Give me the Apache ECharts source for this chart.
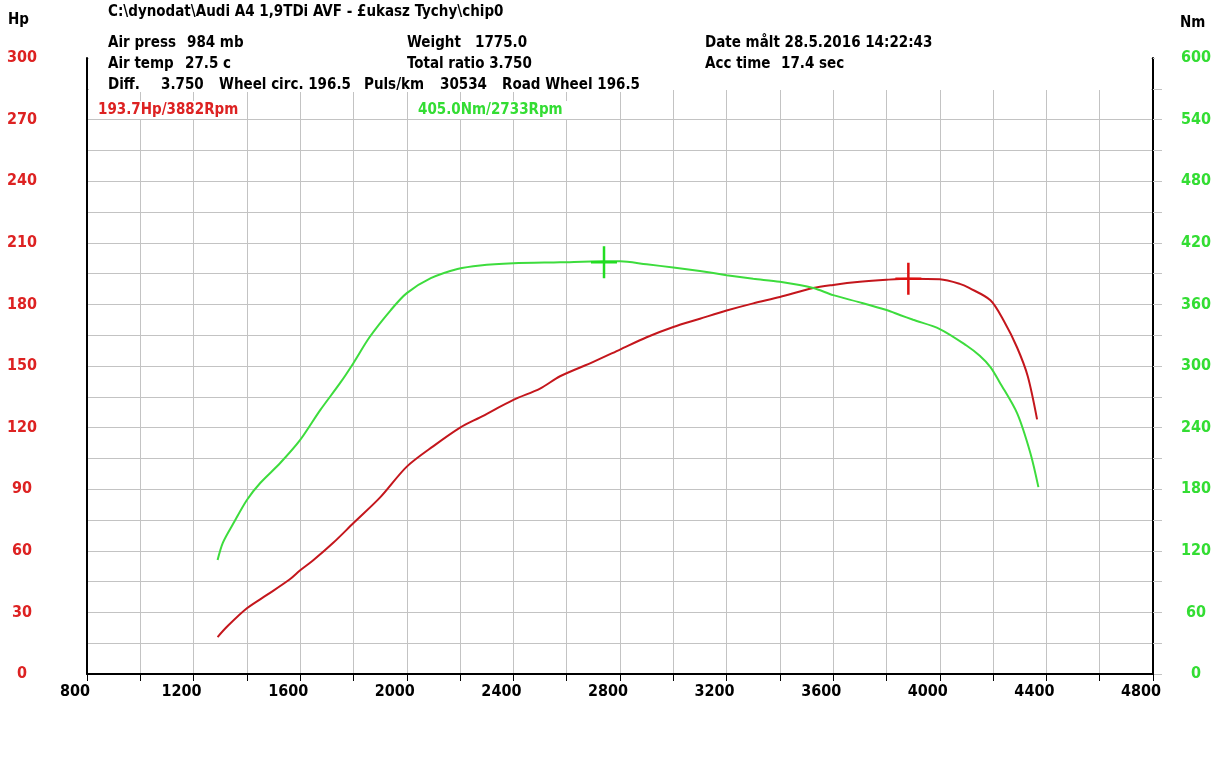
<!DOCTYPE html>
<html>
<head>
<meta charset="utf-8">
<script src="https://cdn.jsdelivr.net/npm/echarts@6/dist/echarts.min.js"></script>
<style>
  html, body { margin: 0; padding: 0; background: #fff; }
  #dyno { width: 1227px; height: 779px; }
</style>
</head>
<body>
<div id="dyno"></div>
<script>
// potencia (Hp)
var hpRpm = [1290, 1325, 1400, 1475, 1560, 1600, 1650, 1725, 1800, 1900, 2000, 2100, 2200, 2275, 2400, 2500, 2575, 2700, 2800, 2900, 3000, 3100, 3200, 3300, 3400, 3525, 3600, 3700, 3800, 3882, 4000, 4075, 4110, 4190, 4240, 4290, 4330, 4365];
var hpVal = [18, 23, 32, 38.5, 46, 50.5, 55.5, 64, 73.5, 86, 101, 111, 120, 125, 133.5, 139, 145, 152, 158, 164, 169, 173, 177, 180.5, 183.6, 188, 189.5, 191, 192, 192.5, 192.2, 190, 188, 182, 172, 159, 145, 124];

// par motor (Nm)
var nmRpm = [1290, 1310, 1350, 1400, 1450, 1525, 1600, 1675, 1750, 1800, 1860, 1940, 2000, 2090, 2190, 2275, 2400, 2575, 2733, 2800, 2900, 3000, 3100, 3200, 3300, 3400, 3525, 3600, 3700, 3800, 3850, 3900, 4000, 4100, 4150, 4190, 4225, 4290, 4340, 4370];
var nmVal = [111, 128, 147, 169.5, 186, 205.5, 228, 257, 283.5, 303, 328, 354.5, 371, 385.5, 394.5, 398, 400, 401, 402, 402, 399, 396, 392.5, 388.5, 385, 382, 376, 369, 362, 354.5, 349.7, 345, 336, 320, 310, 299, 284, 254, 215, 182];

// maximos (posicion de las cruces)
var peakHp = [3882, 192.5];
var peakNm = [2740, 401];

var hpTicks = [0, 300, 30];
var nmTicks = [0, 600, 60];
var rpmTicks = [800, 4800, 400];

var hpData = hpRpm.map(function(r, i) { return [r, hpVal[i]]; });
var nmData = nmRpm.map(function(r, i) { return [r, nmVal[i]]; });

var font = "'DejaVu Sans Condensed', 'DejaVu Sans', sans-serif";
var cross = 'path://M11.75,0h2.5v32h-2.5zM0,14.75h26v2.5h-26z';
var gridColor = '#c3c3c3';

function txt(x, y, s, color) {
  return {
    type: 'text', x: x, y: y, z: 20,
    style: { text: s, fill: color || '#000', font: 'bold 15px ' + font, textVerticalAlign: 'middle' }
  };
}

var myChart = echarts.init(document.getElementById('dyno'));

myChart.setOption({
  animation: false,
  backgroundColor: '#fff',
  grid: { left: 87, right: 74, top: 58, bottom: 105 },
  xAxis: {
    type: 'value',
    min: rpmTicks[0], max: rpmTicks[1], interval: rpmTicks[2],
    axisLine: { lineStyle: { color: '#000', width: 2 } },
    axisTick: { length: 7, lineStyle: { color: '#000', width: 1 } },
    minorTick: { show: true, splitNumber: 2, length: 7, lineStyle: { color: '#000', width: 1 } },
    splitLine: { show: true, lineStyle: { color: gridColor, width: 1 } },
    minorSplitLine: { show: true, lineStyle: { color: gridColor, width: 1 } },
    axisLabel: {
      color: '#000', fontWeight: 'bold', fontSize: 16, fontFamily: font, margin: 10, padding: [0, 24, 0, 0],
      formatter: function(v) { return String(v); }
    }
  },
  yAxis: [
    {
      type: 'value',
      min: hpTicks[0], max: hpTicks[1], interval: hpTicks[2],
      axisLine: { show: true, lineStyle: { color: '#000', width: 2 } },
      axisTick: { show: false },
      splitLine: { show: true, lineStyle: { color: gridColor, width: 1 } },
      minorTick: { show: false, splitNumber: 2 },
      minorSplitLine: { show: true, lineStyle: { color: gridColor, width: 1 } },
      axisLabel: { color: '#dd2222', fontWeight: 'bold', fontSize: 16, fontFamily: font, align: 'center', margin: 65 }
    },
    {
      type: 'value',
      position: 'right',
      min: nmTicks[0], max: nmTicks[1], interval: nmTicks[2],
      axisLine: { show: true, lineStyle: { color: '#000', width: 2 } },
      axisTick: { show: true, length: 9, lineStyle: { color: gridColor, width: 1 } },
      minorTick: { show: true, splitNumber: 2, length: 9, lineStyle: { color: gridColor, width: 1 } },
      splitLine: { show: false },
      axisLabel: { color: '#33dd33', fontWeight: 'bold', fontSize: 16, fontFamily: font, align: 'center', margin: 43 }
    }
  ],
  series: [
    {
      name: 'Hp', type: 'line', yAxisIndex: 0, data: hpData,
      smooth: 0.3, showSymbol: false,
      lineStyle: { color: '#c4161c', width: 2 },
      markPoint: {
        symbol: cross, symbolSize: [26, 32], label: { show: false },
        itemStyle: { color: '#dd1111' },
        data: [{ coord: peakHp }]
      }
    },
    {
      name: 'Nm', type: 'line', yAxisIndex: 1, data: nmData,
      smooth: 0.3, showSymbol: false,
      lineStyle: { color: '#3ddc3d', width: 2 },
      markPoint: {
        symbol: cross, symbolSize: [26, 32], label: { show: false },
        itemStyle: { color: '#22dd22' },
        data: [{ coord: peakNm }]
      }
    }
  ],
  graphic: [
    // zona superior sin rejilla
    { type: 'rect', z: 10, shape: { x: 89, y: 48, width: 1062, height: 42 }, style: { fill: '#fff' } },
    { type: 'rect', z: 10, shape: { x: 1155, y: 48, width: 15, height: 16 }, style: { fill: '#fff' } },
    { type: 'rect', z: 10, shape: { x: 106, y: 76, width: 546, height: 16 }, style: { fill: '#fff' } },
    { type: 'rect', z: 10, shape: { x: 95, y: 101, width: 152, height: 18 }, style: { fill: '#fff' } },
    { type: 'rect', z: 10, shape: { x: 415, y: 101, width: 157, height: 18 }, style: { fill: '#fff' } },
    txt(8, 20, 'Hp'),
    txt(1180, 23, 'Nm'),
    txt(108, 12, 'C:\\dynodat\\Audi A4 1,9TDi AVF - \u00a3ukasz Tychy\\chip0'),
    txt(108, 43, 'Air press'), txt(187, 43, '984 mb'),
    txt(407, 43, 'Weight'), txt(475, 43, '1775.0'),
    txt(705, 43, 'Date m\u00e5lt 28.5.2016 14:22:43'),
    txt(108, 64, 'Air temp'), txt(185, 64, '27.5 c'),
    txt(407, 64, 'Total ratio 3.750'),
    txt(705, 64, 'Acc time'), txt(781, 64, '17.4 sec'),
    txt(108, 85, 'Diff.'), txt(161, 85, '3.750'), txt(219, 85, 'Wheel circ. 196.5'),
    txt(364, 85, 'Puls/km'), txt(440, 85, '30534'), txt(502, 85, 'Road Wheel 196.5'),
    txt(98, 110, '193.7Hp/3882Rpm', '#dd2222'),
    txt(418, 110, '405.0Nm/2733Rpm', '#33dd33')
  ]
});
</script>
</body>
</html>
